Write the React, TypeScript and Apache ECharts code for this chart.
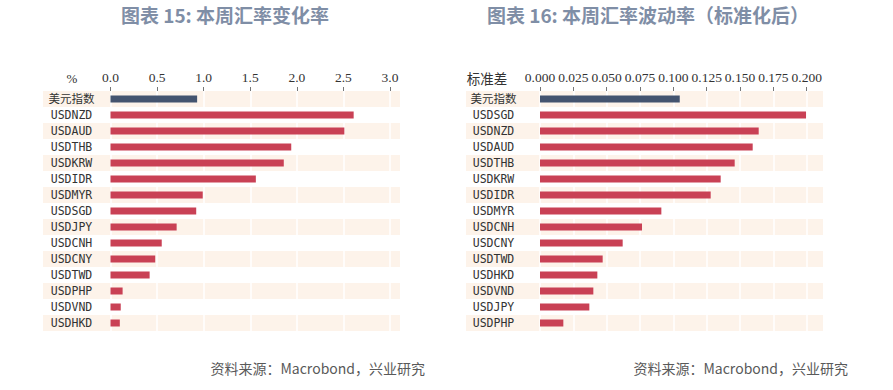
import React, { useEffect, useRef } from "react";
import * as echarts from "echarts";

const leftCategories = ["美元指数", "USDNZD", "USDAUD", "USDTHB", "USDKRW", "USDIDR", "USDMYR", "USDSGD", "USDJPY", "USDCNH", "USDCNY", "USDTWD", "USDPHP", "USDVND", "USDHKD"];
const leftValues = [0.93, 2.61, 2.51, 1.94, 1.86, 1.56, 0.99, 0.92, 0.71, 0.55, 0.48, 0.42, 0.13, 0.11, 0.1];

const rightCategories = ["美元指数", "USDSGD", "USDNZD", "USDAUD", "USDTHB", "USDKRW", "USDIDR", "USDMYR", "USDCNH", "USDCNY", "USDTWD", "USDHKD", "USDVND", "USDJPY", "USDPHP"];
const rightValues = [0.1048, 0.1995, 0.164, 0.1595, 0.146, 0.1355, 0.128, 0.091, 0.0765, 0.062, 0.047, 0.043, 0.04, 0.037, 0.0175];

const titles = ["图表 15: 本周汇率变化率", "图表 16: 本周汇率波动率（标准化后）"];
const unitLabels = ["%", "标准差"];
const sourceText = "资料来源：Macrobond，兴业研究";

const DARK = "#44546f";
const RED = "#c94155";
const STRIPE = "#fdf3ea";
const MONO = "'DejaVu Sans Mono', 'Noto Sans CJK SC', monospace";
const TICKFONT = "'Liberation Serif', 'Noto Sans CJK SC', serif";

export default function App() {
  const ref = useRef<HTMLDivElement>(null);
  useEffect(() => {
    document.body.style.margin = "0";
    if (!ref.current) return;
    const chart = echarts.init(ref.current, undefined, { renderer: "svg" });

    const barData = (vals: number[]) =>
      vals.map((v, i) => ({ value: v, itemStyle: { color: i === 0 ? DARK : RED } }));

    const bgY = (gridIndex: number, cats: string[]) => ({
      type: "category",
      gridIndex,
      data: cats,
      inverse: true,
      z: 0,
      axisLine: { show: false },
      axisTick: { show: false },
      axisLabel: { show: false },
      splitLine: { show: false },
      splitArea: { show: true, areaStyle: { color: [STRIPE, "#ffffff"] } },
    });
    const bgX = (gridIndex: number) => ({
      type: "value",
      gridIndex,
      min: 0,
      max: 1,
      show: false,
    });

    const dataX = (gridIndex: number, max: number, interval: number, digits: number) => ({
      type: "value",
      gridIndex,
      position: "top",
      min: 0,
      max,
      interval,
      z: 1,
      axisLine: { show: false },
      axisTick: { show: true, length: 4, lineStyle: { color: "#777" } },
      axisLabel: {
        margin: 7,
        fontFamily: TICKFONT,
        fontSize: 13.5,
        color: "#333",
        showMinLabel: true,
        showMaxLabel: true,
        hideOverlap: false,
        formatter: (v: number) => v.toFixed(digits),
      },
      splitLine: { show: true, lineStyle: { color: "#ffffff", width: 1.5 } },
    });
    const dataY = (gridIndex: number, cats: string[], margin: number) => ({
      type: "category",
      gridIndex,
      data: cats,
      inverse: true,
      axisLine: { show: false },
      axisTick: { show: false },
      splitLine: { show: false },
      axisLabel: {
        align: "center",
        margin,
        fontFamily: MONO,
        fontSize: 11.5,
        color: "#333",
      },
    });

    const titleStyle = { fontFamily: "'Noto Sans CJK SC'", fontSize: 19, fontWeight: "bold", color: "#7f8ea6" };
    const srcStyle = { fontFamily: "'Noto Sans CJK SC'", fontSize: 14, fontWeight: "normal", color: "#595959" };

    chart.setOption({
      animation: false,
      backgroundColor: "#ffffff",
      title: [
        { text: titles[0], left: 225, top: 5, padding: 0, textAlign: "center", textStyle: titleStyle },
        { text: titles[1], left: 648, top: 5, padding: 0, textAlign: "center", textStyle: titleStyle },
        {
          text: unitLabels[0],
          left: 72,
          top: 72,
          padding: 0,
          textAlign: "center",
          textStyle: { fontFamily: TICKFONT, fontSize: 13, fontWeight: "normal", color: "#333" },
        },
        {
          text: unitLabels[1],
          left: 487,
          top: 71,
          padding: 0,
          textAlign: "center",
          textStyle: { fontFamily: "'Noto Sans CJK SC'", fontSize: 13.5, fontWeight: "normal", color: "#333" },
        },
        { text: sourceText, left: 425, top: 361, padding: 0, textAlign: "right", textStyle: srcStyle },
        { text: sourceText, left: 848, top: 361, padding: 0, textAlign: "right", textStyle: srcStyle },
      ],
      grid: [
        { left: 43, top: 91, width: 357, height: 240 },
        { left: 110.5, top: 91, width: 279.5, height: 240 },
        { left: 466, top: 91, width: 357, height: 240 },
        { left: 540, top: 91, width: 266.7, height: 240 },
      ],
      xAxis: [bgX(0), dataX(1, 3, 0.5, 1), bgX(2), dataX(3, 0.2, 0.025, 3)],
      yAxis: [bgY(0, leftCategories), dataY(1, leftCategories, 39), bgY(2, rightCategories), dataY(3, rightCategories, 46.5)],
      series: [
        { type: "bar", xAxisIndex: 1, yAxisIndex: 1, barWidth: 7, data: barData(leftValues) },
        { type: "bar", xAxisIndex: 3, yAxisIndex: 3, barWidth: 7, data: barData(rightValues) },
      ],
    });
    return () => chart.dispose();
  }, []);
  return <div ref={ref} style={{ width: 893, height: 390 }} />;
}
